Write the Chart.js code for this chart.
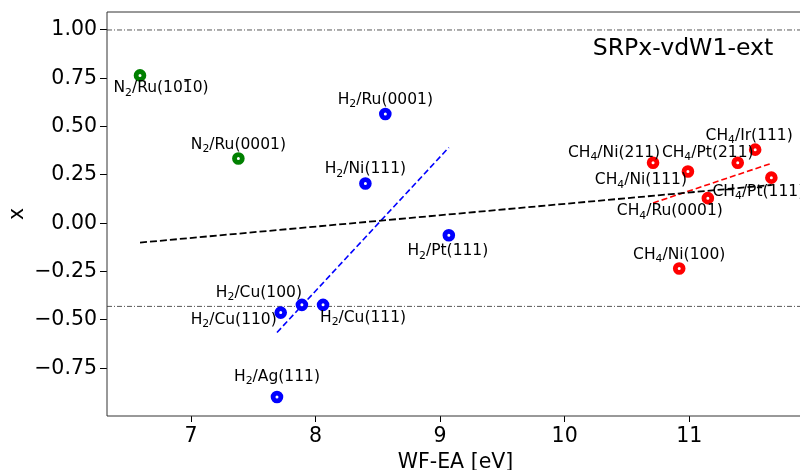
<!DOCTYPE html>
<html>
<head>
<meta charset="utf-8">
<script src="https://cdn.jsdelivr.net/npm/chart.js@4.4.1/dist/chart.umd.min.js"></script>
<style>
  html, body { margin: 0; padding: 0; overflow: hidden; background: #fff; }
  canvas { display: block; }
</style>
</head>
<body>
<canvas id="chart" width="800" height="470"></canvas>
<script>
// --- data ---
const n2Labels = ["N_2/Ru(10~10)", "N_2/Ru(0001)"];
const n2X = [6.59, 7.38];
const n2Y = [0.765, 0.335];

const h2Labels = ["H_2/Ru(0001)", "H_2/Ni(111)", "H_2/Pt(111)", "H_2/Cu(100)", "H_2/Cu(110)", "H_2/Cu(111)", "H_2/Ag(111)"];
const h2X = [8.56, 8.40, 9.07, 7.89, 7.72, 8.06, 7.69];
const h2Y = [0.565, 0.206, -0.062, -0.422, -0.462, -0.422, -0.899];

const ch4Labels = ["CH_4/Ni(211)", "CH_4/Ni(111)", "CH_4/Pt(211)", "CH_4/Ir(111)", "CH_4/Pt(111)", "CH_4/Ru(0001)", "CH_4/Ni(100)"];
const ch4X = [10.71, 10.99, 11.39, 11.53, 11.66, 11.15, 10.92];
const ch4Y = [0.313, 0.268, 0.313, 0.381, 0.236, 0.130, -0.234];

// fitted lines (end points)
const fitAllX = [6.59, 11.66];
const fitAllY = [-0.100, 0.198];
const fitH2X = [7.69, 9.07];
const fitH2Y = [-0.565, 0.392];
const fitCH4X = [10.71, 11.66];
const fitCH4Y = [0.105, 0.310];

// horizontal reference levels
const refLevels = [1.0, -0.43];

const xTicks = [7, 8, 9, 10, 11];
const yTicks = [-0.75, -0.5, -0.25, 0, 0.25, 0.5, 0.75, 1.0];

// label placement, pixel offsets from the point (dx, baseline dy)
const n2Offsets = [[21, 17], [0, -10]];
const h2Offsets = [[0, -10], [0, -10], [-1, 20], [-43, -8], [-47, 11], [40, 17], [0, -16]];
const ch4Offsets = [[-39, -6], [-47, 13], [-30, -6], [-6, -10], [-13, 18], [-38, 17], [0, -10]];

// the original figure is cut at the right, past x = 11.89
const X_MIN = 6.325, X_MAX = 11.89;
const Y_MIN = -0.997, Y_MAX = 1.093;
const FONT = "'DejaVu Sans', sans-serif";

function pts(xs, ys) { return xs.map((x, i) => ({ x: x, y: ys[i] })); }

function scatterSet(label, xs, ys, color) {
    return {
        type: "scatter", label: label, data: pts(xs, ys), order: 1,
        pointRadius: 3.9, pointBorderWidth: 4.8, pointHoverRadius: 3.9,
        pointBackgroundColor: "#fff", pointBorderColor: color
    };
}

function lineSet(label, xs, ys, color, dash, width) {
    return {
        type: "line", label: label, data: pts(xs, ys), order: 2,
        borderColor: color, borderWidth: width, borderDash: dash,
        pointRadius: 0, fill: false, tension: 0
    };
}

const datasets = [
    ...refLevels.map((v, i) => lineSet("ref" + i, [X_MIN, X_MAX], [v, v], "#444", [5, 2, 1, 2], 0.9)),
    lineSet("fit all", fitAllX, fitAllY, "#000", [7, 3], 1.8),
    lineSet("fit H2", fitH2X, fitH2Y, "#0000ff", [6, 3], 1.6),
    lineSet("fit CH4", fitCH4X, fitCH4Y, "#ff0000", [6, 3], 1.6),
    scatterSet("N2", n2X, n2Y, "#008000"),
    scatterSet("H2", h2X, h2Y, "#0000ff"),
    scatterSet("CH4", ch4X, ch4Y, "#ff0000")
];

// "_" -> next char subscript, "~" -> next char with overbar
function parseRich(str) {
    const segs = [];
    for (let i = 0; i < str.length; i++) {
        const c = str[i];
        if (c === "_") { segs.push({ t: str[++i], sub: true }); }
        else if (c === "~") { segs.push({ t: str[++i], bar: true }); }
        else if (segs.length && !segs[segs.length - 1].sub && !segs[segs.length - 1].bar) { segs[segs.length - 1].t += c; }
        else { segs.push({ t: c }); }
    }
    return segs;
}

function drawRich(ctx, str, cx, baseY, size) {
    const segs = parseRich(str);
    const subSize = size * 0.7;
    let total = 0;
    segs.forEach(s => {
        ctx.font = (s.sub ? subSize : size) + "px " + FONT;
        s.w = ctx.measureText(s.t).width;
        total += s.w;
    });
    let x = cx - total / 2;
    ctx.textAlign = "left";
    ctx.textBaseline = "alphabetic";
    segs.forEach(s => {
        ctx.font = (s.sub ? subSize : size) + "px " + FONT;
        ctx.fillText(s.t, x, s.sub ? baseY + size * 0.22 : baseY);
        if (s.bar) {
            ctx.fillRect(x + s.w * 0.15, baseY - size * 0.86, s.w * 0.7, 1);
        }
        x += s.w;
    });
}

// the plot area runs to the canvas edge (figure is cropped on the right)
const stretchRight = {
    id: "stretchRight",
    afterLayout(chart) {
        const s = chart.scales.x, a = chart.chartArea;
        a.right = chart.width;
        a.width = a.right - a.left;
        s.right = chart.width;
        s.width = s.right - s.left;
        s.configure();
    }
};

const annotations = {
    id: "annotations",
    afterDatasetsDraw(chart) {
        const ctx = chart.ctx, xs = chart.scales.x, ys = chart.scales.y, a = chart.chartArea;
        ctx.save();
        ctx.fillStyle = "#000";
        const groups = [[n2Labels, n2X, n2Y, n2Offsets], [h2Labels, h2X, h2Y, h2Offsets], [ch4Labels, ch4X, ch4Y, ch4Offsets]];
        groups.forEach(([labels, gx, gy, offs]) => {
            labels.forEach((lab, i) => {
                const px = xs.getPixelForValue(gx[i]) + offs[i][0];
                const py = ys.getPixelForValue(gy[i]) + offs[i][1];
                drawRich(ctx, lab, px, py, 15.5);
            });
        });
        // panel title
        ctx.font = "23.6px " + FONT;
        ctx.textAlign = "center";
        ctx.textBaseline = "alphabetic";
        ctx.fillText("SRPx-vdW1-ext", 683, a.top + 43);
        // axis titles
        ctx.font = "20.5px " + FONT;
        ctx.fillText("WF-EA [eV]", 455.5, 468);
        ctx.save();
        ctx.translate(18, (a.top + a.bottom) / 2);
        ctx.rotate(-Math.PI / 2);
        ctx.textBaseline = "middle";
        ctx.fillText("x", 0, 0);
        ctx.restore();
        // frame (right spine lies outside the cropped figure)
        ctx.strokeStyle = "#333";
        ctx.lineWidth = 1;
        ctx.beginPath();
        ctx.moveTo(a.right + 1, a.top);
        ctx.lineTo(a.left, a.top);
        ctx.lineTo(a.left, a.bottom);
        ctx.lineTo(a.right + 1, a.bottom);
        ctx.stroke();
        ctx.restore();
    }
};

new Chart(document.getElementById("chart"), {
    data: { datasets: datasets },
    options: {
        responsive: false,
        animation: false,
        layout: { padding: { left: 0, top: 12, right: 0, bottom: 0 } },
        plugins: { legend: { display: false }, tooltip: { enabled: false } },
        scales: {
            x: {
                type: "linear", min: X_MIN, max: X_MAX,
                afterBuildTicks: s => { s.ticks = xTicks.map(v => ({ value: v })); },
                afterFit: s => { s.height = 54; s.paddingLeft = 0; s.paddingRight = 0; },
                ticks: { color: "#000", font: { family: FONT, size: 20.5 }, padding: 2, maxRotation: 0 },
                grid: { drawOnChartArea: false, drawTicks: true, tickLength: 6, color: "#000" },
                border: { display: false }
            },
            y: {
                type: "linear", min: Y_MIN, max: Y_MAX,
                afterBuildTicks: s => { s.ticks = yTicks.map(v => ({ value: v })); },
                afterFit: s => { s.width = 107; s.paddingTop = 0; s.paddingBottom = 0; },
                ticks: {
                    color: "#000", font: { family: FONT, size: 20.5 }, padding: 3,
                    callback: v => v.toFixed(2).replace("-", "\u2212")
                },
                grid: { drawOnChartArea: false, drawTicks: true, tickLength: 7, color: "#000" },
                border: { display: false }
            }
        }
    },
    plugins: [stretchRight, annotations]
});
</script>
</body>
</html>
